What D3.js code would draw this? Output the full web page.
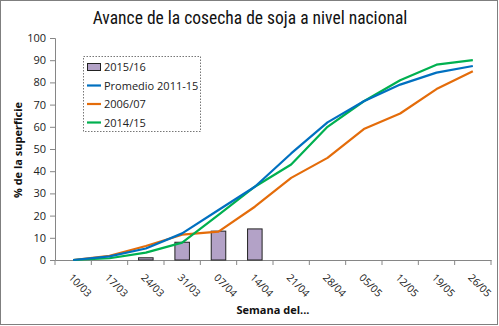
<!DOCTYPE html>
<html lang="es">
<head>
<meta charset="UTF-8">
<title>Avance de la cosecha de soja</title>
<script src="https://d3js.org/d3.v7.min.js"></script>
<style>
  body { margin: 0; background: #fff; }
  svg { display: block; }
  .tick text { font: 11px "Open Sans", "Liberation Sans", sans-serif; fill: #222; }
  .xax .tick text { font-size: 10.3px; }
  .domain, .tick line { stroke: #868686; }
</style>
</head>
<body>
<script>
// data
const weeks = ["10/03","17/03","24/03","31/03","07/04","14/04","21/04","28/04","05/05","12/05","19/05","26/05"];
const bars1516 = [null, null, 1, 8, 13, 14, null, null, null, null, null, null];
const promedio = [0, 1.6, 5.2, 12, 22.5, 33, 48, 62, 71.5, 79, 84.4, 87.4];
const c0607 = [0, 1.9, 6.3, 11.4, 12.8, 24, 37, 46, 59, 66, 77, 85];
const c1415 = [0, 0.8, 3.3, 7.8, 20.3, 33, 43, 60, 71.5, 81, 88, 90];
const yTicks = d3.range(0, 101, 10);

const W = 499, H = 326;
const margin = {top: 38, right: 8, bottom: 66, left: 55};

const svg = d3.select("body").append("svg")
    .attr("width", W)
    .attr("height", H);

// outer border
svg.append("rect")
    .attr("x", 0.5).attr("y", 0.5)
    .attr("width", W - 2).attr("height", H - 2)
    .attr("fill", "#fff").attr("stroke", "#7f7f7f");

const x = d3.scaleBand().domain(weeks).range([margin.left, 491]);
const y = d3.scaleLinear().domain([0, 100]).range([260, margin.top]);

// title
svg.append("text")
    .attr("x", 250).attr("y", 24)
    .attr("text-anchor", "middle")
    .style("font", "17.5px 'Liberation Sans Narrow', 'Roboto Condensed', 'Liberation Sans', sans-serif")
    .attr("fill", "#111")
    .text("Avance de la cosecha de soja a nivel nacional");

// y axis
svg.append("g")
    .attr("transform", `translate(${margin.left},0)`)
    .call(d3.axisLeft(y).tickValues(yTicks).tickSize(5).tickPadding(4));

// x axis
const xAxis = svg.append("g")
    .attr("class", "xax")
    .attr("transform", `translate(0,${y(0)})`)
    .call(d3.axisBottom(x).tickSize(0).tickPadding(6));
xAxis.selectAll(".tick text")
    .attr("text-anchor", "start")
    .attr("dy", "0")
    .attr("transform", "translate(-1,14) rotate(45)");
// category separator ticks
xAxis.selectAll(".sep")
    .data(d3.range(weeks.length + 1))
    .join("line")
    .attr("class", "sep")
    .attr("x1", i => margin.left + i * x.step())
    .attr("x2", i => margin.left + i * x.step())
    .attr("y1", 0).attr("y2", 5)
    .attr("stroke", "#868686");

// bars
const bw = x.bandwidth() * 0.4;
svg.selectAll(".bar")
    .data(weeks.map((w, i) => ({w, v: bars1516[i]})).filter(d => d.v != null))
    .join("rect")
    .attr("class", "bar")
    .attr("x", d => x(d.w) + (x.bandwidth() - bw) / 2)
    .attr("y", d => y(d.v))
    .attr("width", bw)
    .attr("height", d => y(0) - y(d.v))
    .attr("fill", "#B3A2C7")
    .attr("stroke", "#222")
    .attr("stroke-width", 1);

// lines
const series = [
    {name: "Promedio 2011-15", values: promedio, color: "#0070C0"},
    {name: "2006/07", values: c0607, color: "#E46C0A"},
    {name: "2014/15", values: c1415, color: "#00B050"}
];
const line = d3.line()
    .x((d, i) => x(weeks[i]) + x.bandwidth() / 2)
    .y(d => y(d));
// draw order: orange, green, blue on top-ish
[series[1], series[2], series[0]].forEach(s => {
    svg.append("path")
        .attr("d", line(s.values))
        .attr("fill", "none")
        .attr("stroke", s.color)
        .attr("stroke-width", 2.2)
        .attr("stroke-linejoin", "round");
});

// axis titles
svg.append("text")
    .attr("transform", "translate(22,150) rotate(-90)")
    .attr("text-anchor", "middle")
    .style("font", "bold 11px 'Open Sans', 'Liberation Sans', sans-serif")
    .attr("fill", "#111")
    .text("% de la superficie");
svg.append("text")
    .attr("x", 273).attr("y", 314)
    .attr("text-anchor", "middle")
    .style("font", "bold 11px 'Open Sans', 'Liberation Sans', sans-serif")
    .attr("fill", "#111")
    .text("Semana del...");

// legend
const lg = svg.append("g").attr("transform", "translate(83,56)");
lg.append("rect")
    .attr("x", 0.5).attr("y", 0.5)
    .attr("width", 117).attr("height", 75)
    .attr("fill", "#fff")
    .attr("stroke", "#777")
    .attr("stroke-dasharray", "1.5,1.5");
const items = [{name: "2015/16", bar: true}].concat(series);
items.forEach((it, i) => {
    const cy = 11 + i * 18.5;
    if (it.bar) {
        lg.append("rect")
            .attr("x", 4.5).attr("y", cy - 3.5)
            .attr("width", 13).attr("height", 7)
            .attr("fill", "#B3A2C7").attr("stroke", "#222");
    } else {
        lg.append("line")
            .attr("x1", 4).attr("x2", 18)
            .attr("y1", cy).attr("y2", cy)
            .attr("stroke", it.color).attr("stroke-width", 2.2);
    }
    lg.append("text")
        .attr("x", 21).attr("y", cy + 4)
        .style("font", "11px 'Open Sans', 'Liberation Sans', sans-serif")
        .attr("fill", "#222")
        .text(it.name);
});
</script>
</body>
</html>
